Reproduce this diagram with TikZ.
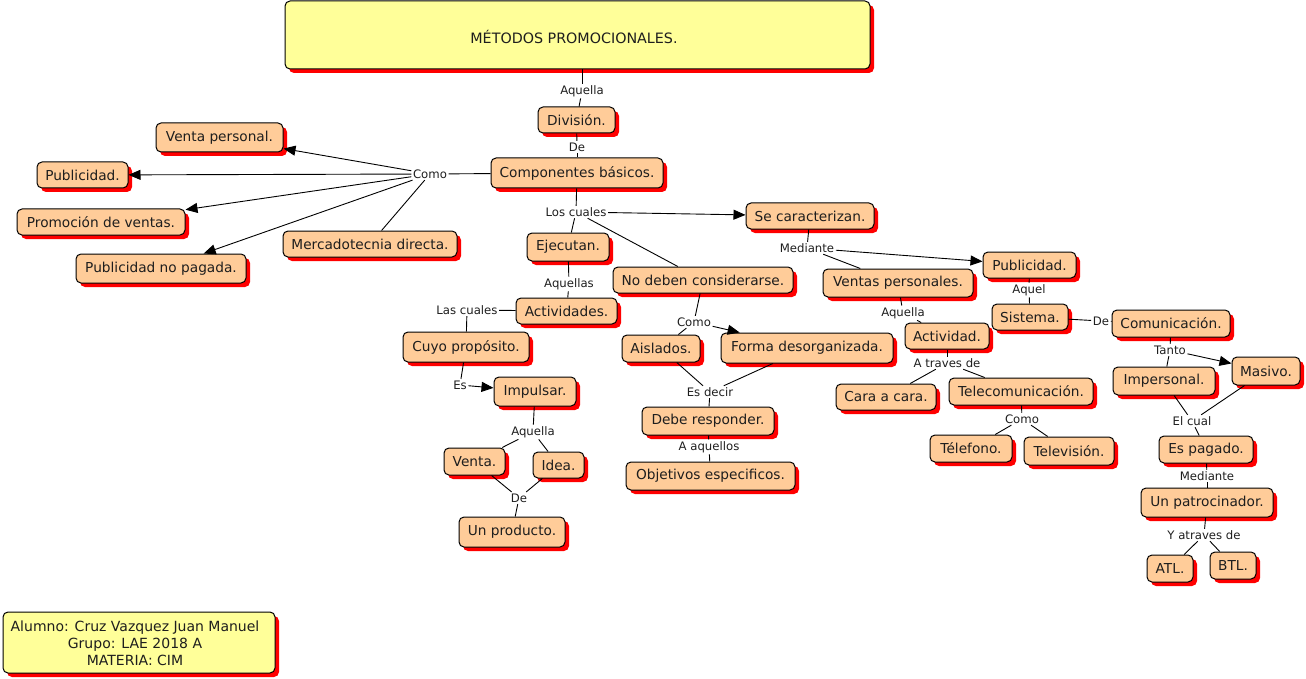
\documentclass[tikz,border=0pt]{standalone}
\usepackage{fontspec}
\setmainfont{DejaVu Sans}
\usetikzlibrary{arrows.meta,shadows}
\definecolor{peach}{RGB}{255,204,153}
\definecolor{paleyellow}{RGB}{255,255,153}
\definecolor{shred}{RGB}{255,0,0}
\definecolor{txt}{RGB}{30,30,30}
\tikzset{
  concept/.style={draw=black, line width=1pt, rounded corners=5pt, fill=peach,
    inner sep=0pt, text=txt, font=\fontsize{13.7}{16}\selectfont,
    drop shadow={shadow xshift=4pt, shadow yshift=-4pt, fill=shred, opacity=1}},
  titlebox/.style={concept, fill=paleyellow},
  lp/.style={inner sep=1.5pt, text=txt, font=\fontsize{11.7}{13}\selectfont},
  conn/.style={draw=black, line width=0.9pt},
  arr/.style={conn, -{Triangle[length=12pt,width=10pt]}}
}
\begin{document}
\begin{tikzpicture}[x=1pt,y=-1pt]
\useasboundingbox (0,0) rectangle (1306,679);
% concepts
\node[titlebox, minimum width=585pt, minimum height=68pt] (title) at (577.5,35) {};
\node[text=txt, font=\fontsize{14.3}{16}\selectfont, inner sep=0pt] (titletxt) at (574,37) {MÉTODOS PROMOCIONALES.};
\node[concept, minimum width=77pt, minimum height=26pt] (division) at (576.5,120) {División.};
\node[concept, minimum width=172pt, minimum height=30pt] (comp) at (577,173) {Componentes básicos.};
\node[concept, minimum width=127pt, minimum height=29pt] (ventaP) at (219.5,137.5) {Venta personal.};
\node[concept, minimum width=91pt, minimum height=26pt] (publ1) at (82.5,175) {Publicidad.};
\node[concept, minimum width=168pt, minimum height=26pt] (promo) at (101,222) {Promoción de ventas.};
\node[concept, minimum width=170pt, minimum height=29pt] (pubnp) at (161,268.5) {Publicidad no pagada.};
\node[concept, minimum width=174pt, minimum height=26pt] (merc) at (370,244) {Mercadotecnia directa.};
\node[concept, minimum width=128pt, minimum height=26pt] (secar) at (810,216) {Se caracterizan.};
\node[concept, minimum width=82pt, minimum height=28pt] (ejec) at (568,247) {Ejecutan.};
\node[concept, minimum width=180pt, minimum height=26pt] (nodeb) at (703,280) {No deben considerarse.};
\node[concept, minimum width=150pt, minimum height=28pt] (ventasP) at (898,283) {Ventas personales.};
\node[concept, minimum width=101pt, minimum height=26pt] (activ) at (566.5,311) {Actividades.};
\node[concept, minimum width=126pt, minimum height=30pt] (cuyo) at (466,347) {Cuyo propósito.};
\node[concept, minimum width=78pt, minimum height=27pt] (aisl) at (661,348.5) {Aislados.};
\node[concept, minimum width=172pt, minimum height=30pt] (forma) at (807,348) {Forma desorganizada.};
\node[concept, minimum width=82pt, minimum height=29pt] (impul) at (535,391.5) {Impulsar.};
\node[concept, minimum width=61pt, minimum height=27pt] (venta) at (474.5,461.5) {Venta.};
\node[concept, minimum width=51pt, minimum height=26pt] (idea) at (558.5,465) {Idea.};
\node[concept, minimum width=106pt, minimum height=30pt] (unprod) at (512,532) {Un producto.};
\node[concept, minimum width=132pt, minimum height=28pt] (debe) at (708,421) {Debe responder.};
\node[concept, minimum width=169pt, minimum height=28pt] (objet) at (710.5,476) {Objetivos especificos.};
\node[concept, minimum width=93pt, minimum height=26pt] (publ2) at (1029.5,265) {Publicidad.};
\node[concept, minimum width=76pt, minimum height=26pt] (sist) at (1030,317) {Sistema.};
\node[concept, minimum width=118pt, minimum height=27pt] (comun) at (1171,323.5) {Comunicación.};
\node[concept, minimum width=84pt, minimum height=26pt] (actividad) at (947,336) {Actividad.};
\node[concept, minimum width=100pt, minimum height=26pt] (cara) at (886,397) {Cara a cara.};
\node[concept, minimum width=144pt, minimum height=27pt] (telec) at (1021,391.5) {Telecomunicación.};
\node[concept, minimum width=82pt, minimum height=27pt] (telef) at (971,448.5) {Télefono.};
\node[concept, minimum width=90pt, minimum height=28pt] (telev) at (1069,451) {Televisión.};
\node[concept, minimum width=68pt, minimum height=28pt] (masivo) at (1266,371) {Masivo.};
\node[concept, minimum width=102pt, minimum height=28pt] (imper) at (1164,381) {Impersonal.};
\node[concept, minimum width=94pt, minimum height=27pt] (espag) at (1206,449.5) {Es pagado.};
\node[concept, minimum width=132pt, minimum height=29pt] (unpat) at (1207,502.5) {Un patrocinador.};
\node[concept, minimum width=46pt, minimum height=27pt] (atl) at (1170,568.5) {ATL.};
\node[concept, minimum width=46pt, minimum height=27pt] (btl) at (1233,565.5) {BTL.};
\node[titlebox, minimum width=272pt, minimum height=61pt] (alumno) at (139,642.5) {};
\node[text=txt, font=\fontsize{14}{17}\selectfont, align=center, inner sep=0pt] (alumnotxt) at (135,643) {Alumno: Cruz Vazquez Juan Manuel\\Grupo: LAE 2018 A\\MATERIA: CIM};
% linking phrases
\node[lp] (lAquella1) at (582,91) {Aquella};
\node[lp] (lDe1) at (577,147) {De};
\node[lp] (lComo1) at (430,174) {Como};
\node[lp] (lLosCuales) at (576,212) {Los cuales};
\node[lp] (lMediante1) at (807,248) {Mediante};
\node[lp] (lAquellas) at (569,284) {Aquellas};
\node[lp] (lLasCuales) at (467,310) {Las cuales};
\node[lp] (lComo2) at (694,322) {Como};
\node[lp] (lEs) at (460,385) {Es};
\node[lp] (lAquella2) at (533,432) {Aquella};
\node[lp] (lDe2) at (519,498) {De};
\node[lp] (lEsDecir) at (710,392) {Es decir};
\node[lp] (lAAquellos) at (709,447) {A aquellos};
\node[lp] (lAquella3) at (903,313) {Aquella};
\node[lp] (lATraves) at (947,363) {A traves de};
\node[lp] (lComo3) at (1022,419) {Como};
\node[lp] (lAquel) at (1029,290) {Aquel};
\node[lp] (lDe3) at (1101,321) {De};
\node[lp] (lTanto) at (1170,350) {Tanto};
\node[lp] (lElCual) at (1192,421) {El cual};
\node[lp] (lMediante2) at (1207,476) {Mediante};
\node[lp] (lYAtraves) at (1204,535) {Y atraves de};
% connectors
\draw[conn] (title.south -| lAquella1) -- (lAquella1);
\draw[conn] (lAquella1) -- (division);
\draw[conn] (division) -- (lDe1);
\draw[conn] (lDe1) -- (comp);
\draw[conn] (comp) -- (lComo1);
\draw[arr] (lComo1) -- (ventaP);
\draw[arr] (lComo1) -- (publ1);
\draw[arr] (lComo1) -- (promo);
\draw[arr] (lComo1) -- (pubnp);
\draw[conn] (lComo1) -- (merc);
\draw[conn] (comp) -- (lLosCuales);
\draw[arr] (lLosCuales) -- (secar);
\draw[conn] (lLosCuales) -- (ejec);
\draw[conn] (lLosCuales) -- (nodeb);
\draw[conn] (ejec) -- (lAquellas);
\draw[conn] (lAquellas) -- (activ);
\draw[conn] (activ) -- (lLasCuales);
\draw[conn] (lLasCuales) -- (cuyo);
\draw[conn] (cuyo) -- (lEs);
\draw[arr] (lEs) -- (impul);
\draw[conn] (impul) -- (lAquella2);
\draw[conn] (lAquella2) -- (venta);
\draw[conn] (lAquella2) -- (idea);
\draw[conn] (venta) -- (lDe2);
\draw[conn] (idea) -- (lDe2);
\draw[conn] (lDe2) -- (unprod);
\draw[conn] (nodeb) -- (lComo2);
\draw[conn] (lComo2) -- (aisl);
\draw[arr] (lComo2) -- (forma);
\draw[conn] (aisl) -- (lEsDecir);
\draw[conn] (forma) -- (lEsDecir);
\draw[conn] (lEsDecir) -- (debe);
\draw[conn] (debe) -- (lAAquellos);
\draw[conn] (lAAquellos) -- (objet);
\draw[conn] (secar) -- (lMediante1);
\draw[arr] (lMediante1) -- (publ2);
\draw[conn] (lMediante1) -- (ventasP);
\draw[conn] (ventasP) -- (lAquella3);
\draw[conn] (lAquella3) -- (actividad);
\draw[conn] (actividad) -- (lATraves);
\draw[conn] (lATraves) -- (cara);
\draw[conn] (lATraves) -- (telec);
\draw[conn] (telec) -- (lComo3);
\draw[conn] (lComo3) -- (telef);
\draw[conn] (lComo3) -- (telev);
\draw[conn] (publ2) -- (lAquel);
\draw[conn] (lAquel) -- (sist);
\draw[conn] (sist) -- (lDe3);
\draw[conn] (lDe3) -- (comun);
\draw[conn] (comun) -- (lTanto);
\draw[conn] (lTanto) -- (imper);
\draw[arr] (lTanto) -- (masivo);
\draw[conn] (imper) -- (lElCual);
\draw[conn] (masivo) -- (lElCual);
\draw[conn] (lElCual) -- (espag);
\draw[conn] (espag) -- (lMediante2);
\draw[conn] (lMediante2) -- (unpat);
\draw[conn] (unpat) -- (lYAtraves);
\draw[conn] (lYAtraves) -- (atl);
\draw[conn] (lYAtraves) -- (btl);
\end{tikzpicture}
\end{document}
